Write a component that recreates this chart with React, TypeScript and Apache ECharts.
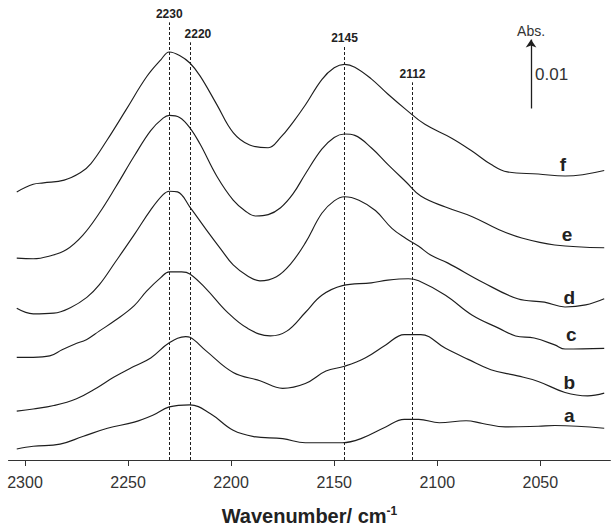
import React, { useEffect, useRef } from "react";
import * as echarts from "echarts";

// Wavenumber (cm-1) / absorbance pairs for each stacked spectrum, offsets included.
const curveA: [number, number][] = [
  [2304, 0.0016], [2296, 0.002], [2283, 0.0023], [2272, 0.0034], [2260, 0.0046], [2247, 0.0055],
  [2238, 0.0065], [2230, 0.0077], [2220, 0.008], [2210, 0.0067], [2199, 0.0043], [2189, 0.0034],
  [2175, 0.0031], [2164, 0.0025], [2146, 0.0025], [2137, 0.0031], [2125, 0.0048], [2116, 0.0059],
  [2109, 0.0059], [2099, 0.0054], [2086, 0.0057], [2078, 0.0053], [2067, 0.0048], [2051, 0.0049],
  [2043, 0.005], [2019, 0.0046],
];
const curveB: [number, number][] = [
  [2304, 0.0071], [2296, 0.0074], [2286, 0.0079], [2275, 0.0089], [2265, 0.0105], [2257, 0.012],
  [2247, 0.0136], [2239, 0.0148], [2230, 0.017], [2222, 0.0179], [2220, 0.0178], [2212, 0.0158],
  [2199, 0.0127], [2186, 0.0115], [2175, 0.0104], [2164, 0.0111], [2154, 0.0129], [2145, 0.0136],
  [2135, 0.0148], [2125, 0.0167], [2116, 0.0182], [2108, 0.0182], [2096, 0.0162], [2085, 0.0146],
  [2074, 0.0131], [2061, 0.0122], [2051, 0.0114], [2038, 0.0098], [2027, 0.0093], [2019, 0.0097],
];
const curveC: [number, number][] = [
  [2304, 0.0149], [2296, 0.0149], [2288, 0.0151], [2282, 0.016], [2276, 0.0168], [2270, 0.0175],
  [2264, 0.0187], [2256, 0.0203], [2247, 0.0224], [2241, 0.0245], [2234, 0.0265], [2230, 0.0273],
  [2224, 0.0273], [2220, 0.027], [2212, 0.0248], [2202, 0.0215], [2192, 0.0191], [2181, 0.018],
  [2173, 0.0187], [2164, 0.0214], [2156, 0.0239], [2146, 0.0253], [2132, 0.0257], [2124, 0.0261],
  [2114, 0.0263], [2109, 0.026], [2096, 0.0239], [2083, 0.021], [2070, 0.0191], [2062, 0.018],
  [2053, 0.0177], [2043, 0.0167], [2038, 0.0161], [2019, 0.0162],
];
const curveD: [number, number][] = [
  [2304, 0.022], [2296, 0.0212], [2286, 0.0213], [2278, 0.0221], [2270, 0.0236], [2264, 0.0254],
  [2256, 0.0288], [2247, 0.0327], [2239, 0.0363], [2233, 0.0385], [2230, 0.039], [2226, 0.0389],
  [2220, 0.0367], [2212, 0.0334], [2205, 0.0306], [2199, 0.0283], [2192, 0.0267], [2186, 0.026],
  [2178, 0.0266], [2171, 0.0285], [2164, 0.0315], [2156, 0.0358], [2150, 0.0376], [2145, 0.0382],
  [2138, 0.0377], [2130, 0.0362], [2122, 0.0336], [2115, 0.0321], [2109, 0.031], [2103, 0.0297],
  [2095, 0.0286], [2078, 0.0258], [2061, 0.0234], [2048, 0.0229], [2038, 0.0222], [2028, 0.0225],
  [2019, 0.0234],
];
const curveE: [number, number][] = [
  [2304, 0.0293], [2296, 0.0292], [2288, 0.0296], [2280, 0.0305], [2272, 0.0326], [2264, 0.0358],
  [2256, 0.0396], [2247, 0.0441], [2239, 0.0478], [2233, 0.0496], [2230, 0.05], [2225, 0.0497],
  [2220, 0.0482], [2215, 0.0458], [2207, 0.0412], [2199, 0.0377], [2193, 0.0361], [2188, 0.0354],
  [2182, 0.0356], [2176, 0.0366], [2170, 0.0386], [2164, 0.0415], [2156, 0.0451], [2150, 0.0468],
  [2145, 0.0473], [2140, 0.0471], [2132, 0.0453], [2124, 0.0429], [2115, 0.0403], [2108, 0.0383],
  [2096, 0.0367], [2083, 0.0353], [2070, 0.0334], [2059, 0.0322], [2043, 0.0312], [2019, 0.0308],
];
const curveF: [number, number][] = [
  [2304, 0.0389], [2296, 0.04], [2291, 0.0402], [2281, 0.0406], [2273, 0.0417], [2268, 0.043],
  [2260, 0.0465], [2251, 0.0508], [2241, 0.0556], [2234, 0.0581], [2230, 0.0592], [2225, 0.0587],
  [2220, 0.0576], [2215, 0.0557], [2207, 0.0516], [2199, 0.0475], [2191, 0.0457], [2182, 0.0453],
  [2176, 0.0468], [2170, 0.049], [2164, 0.0515], [2156, 0.0552], [2150, 0.0569], [2145, 0.0574],
  [2140, 0.057], [2132, 0.0553], [2124, 0.0531], [2115, 0.0508], [2106, 0.0487], [2093, 0.0467],
  [2083, 0.0448], [2074, 0.0429], [2066, 0.0418], [2051, 0.0415], [2038, 0.0412], [2019, 0.042],
];

const CURVE_NAMES = ["a", "b", "c", "d", "e", "f"];
const CURVE_LABEL_WAVES = [2036, 2036, 2035, 2036, 2037, 2039];
const CURVE_LABEL_ABS = [0.0065, 0.0112, 0.0182, 0.0236, 0.0327, 0.0429];

const WAVE_TICKS = [2300, 2250, 2200, 2150, 2100, 2050];

// Band positions marked with dashed guides, and the absorbance where each guide stops
const BAND_POSITIONS = [2230, 2220, 2145, 2112];
const BAND_GUIDE_TOPS = [0.0635, 0.0606, 0.06, 0.0548];

// Absorbance scale bar
const SCALE_WAVE = 2054.5;
const SCALE_FROM = 0.051;
const SCALE_SIZE = 0.01;

const FONT = "'Liberation Sans', Arial, Helvetica, sans-serif";
const INK = "#1e1e1e";

export default function App() {
  const ref = useRef<HTMLDivElement>(null);

  useEffect(() => {
    if (!ref.current) return;
    const chart = echarts.init(ref.current, null, { renderer: "svg" });

    const curves = [curveA, curveB, curveC, curveD, curveE, curveF];

    const spectra = curves.map((data, i) => ({
      type: "line",
      name: CURVE_NAMES[i],
      data,
      showSymbol: false,
      smooth: 0.4,
      silent: true,
      lineStyle: { color: INK, width: 1.15 },
      markPoint: {
        silent: true,
        symbol: "circle",
        symbolSize: 0,
        data: [
          {
            coord: [CURVE_LABEL_WAVES[i], CURVE_LABEL_ABS[i]],
            value: CURVE_NAMES[i],
          },
        ],
        label: {
          show: true,
          position: "inside",
          formatter: "{c}",
          fontFamily: FONT,
          fontSize: 19,
          fontWeight: "bold",
          color: "#222",
        },
      },
    }));

    const guideLines = BAND_POSITIONS.map((w, i) => [
      {
        coord: [w, 0],
        label: {
          show: true,
          position: "end",
          formatter: String(w),
          distance: 2,
          offset: i === 1 ? [8, 0] : [0, 0],
          fontFamily: FONT,
          fontSize: 12,
          fontWeight: "bold",
          color: "#222",
        },
        lineStyle: { type: [3, 2], color: INK, width: 1 },
      },
      { coord: [w, BAND_GUIDE_TOPS[i]] },
    ]);

    const scaleBar = [
      {
        coord: [SCALE_WAVE, SCALE_FROM],
        symbol: "none",
        label: {
          show: true,
          position: "end",
          formatter: "Abs.",
          distance: 2,
          fontFamily: FONT,
          fontSize: 14,
          color: "#333",
        },
        lineStyle: { type: "solid", color: INK, width: 1.3 },
      },
      { coord: [SCALE_WAVE, SCALE_FROM + SCALE_SIZE], symbol: "arrow", symbolSize: 8 },
    ];

    const annotations = {
      type: "line",
      name: "annotations",
      data: [],
      silent: true,
      markLine: {
        silent: true,
        symbol: ["none", "none"],
        data: [...guideLines, scaleBar],
      },
      markPoint: {
        silent: true,
        symbol: "circle",
        symbolSize: 0,
        data: [
          {
            coord: [SCALE_WAVE, SCALE_FROM + SCALE_SIZE / 2],
            value: String(SCALE_SIZE),
          },
        ],
        label: {
          show: true,
          position: "right",
          distance: 4,
          formatter: "{c}",
          fontFamily: FONT,
          fontSize: 17,
          color: "#333",
        },
      },
    };

    chart.setOption({
      animation: false,
      backgroundColor: "#ffffff",
      grid: { left: 8.5, right: 0.6, top: 12, bottom: 65 },
      xAxis: {
        type: "value",
        min: 2016,
        max: 2308,
        inverse: true,
        splitLine: { show: false },
        axisLine: { show: true, onZero: false, lineStyle: { color: "#333", width: 1 } },
        axisTick: {
          show: true,
          length: 6,
          customValues: WAVE_TICKS,
          lineStyle: { color: "#333", width: 1 },
        },
        axisLabel: {
          customValues: WAVE_TICKS,
          formatter: (v: number) => String(v),
          fontFamily: FONT,
          fontSize: 16,
          color: "#333",
          margin: 14,
        },
        name: "Wavenumber/ cm{sup|-1}",
        nameLocation: "middle",
        nameGap: 45,
        nameTextStyle: {
          fontFamily: FONT,
          fontSize: 20,
          fontWeight: "bold",
          color: "#222",
          lineHeight: 22,
          rich: {
            sup: {
              fontFamily: FONT,
              fontSize: 12,
              fontWeight: "bold",
              color: "#222",
              verticalAlign: "top",
              lineHeight: 12,
            },
          },
        },
      },
      yAxis: {
        type: "value",
        show: false,
        min: 0,
        max: 0.065,
        splitLine: { show: false },
      },
      series: [...spectra, annotations],
    });

    return () => chart.dispose();
  }, []);

  return (
    <div
      ref={ref}
      style={{
        position: "absolute",
        left: 0,
        top: 0,
        width: 611,
        height: 532,
        background: "#ffffff",
      }}
    />
  );
}
